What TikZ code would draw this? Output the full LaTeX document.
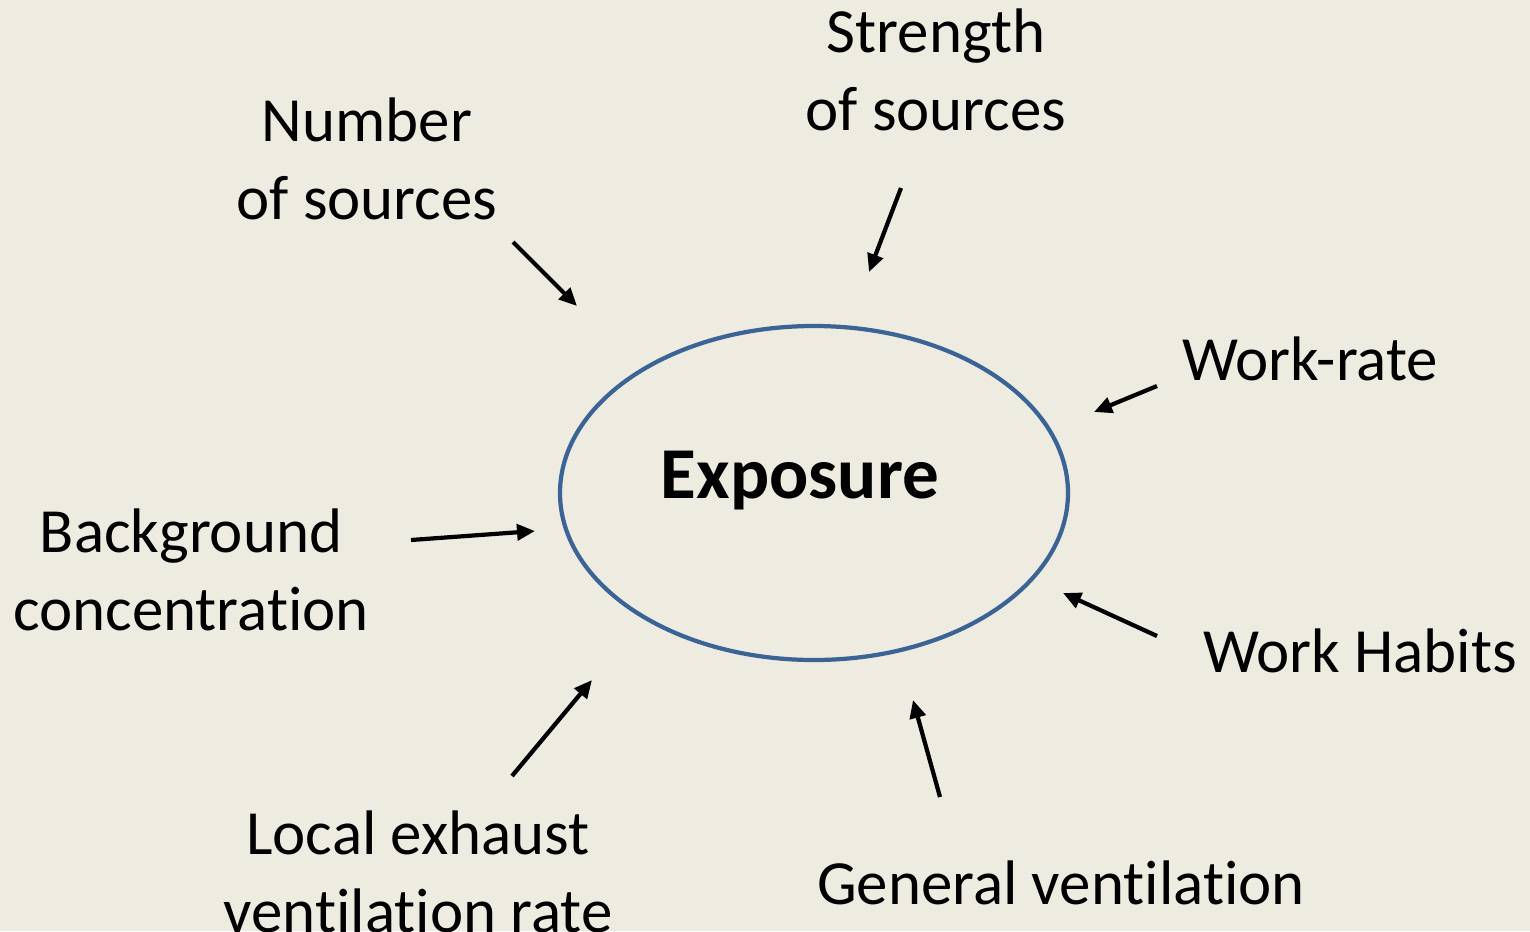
\documentclass[tikz,border=0pt]{standalone}
\usepackage{fontspec}
\setmainfont[Ligatures=NoCommon]{Carlito}
\usepackage{tikz}
\usetikzlibrary{arrows.meta,positioning,calc}
\definecolor{bgtan}{HTML}{EEECE1}
\definecolor{ringblue}{HTML}{3B6396}
\newcommand{\nolig}{\kern0pt}

\begin{document}
\begin{tikzpicture}[>={Triangle[length=0.18cm,width=0.16cm]},font=\fontsize{17.9}{22}\selectfont]
\tikzstyle{lbl}=[align=center,inner sep=0pt]
\tikzstyle{arr}=[->,line width=1.2pt]
\fill[bgtan] (0,0) rectangle (15.3,9.31);
\useasboundingbox (0,0) rectangle (15.3,9.31);
\draw[ringblue,line width=1.2pt] (8.14,4.38) ellipse (2.54cm and 1.67cm);
\node[font=\fontsize{20.8}{25}\selectfont\bfseries] (expo) at (8.00,4.50) {Exposure};
\node[lbl] (num) at (3.67,7.72) {Number\\of sources};
\node[lbl] (str) at (9.36,8.61) {Strength\\of sources};
\node[lbl] (wrate) at (13.10,5.72) {Work-rate};
\node[lbl] (bg) at (1.91,3.61) {Background\\concentrat\nolig ion};
\node[lbl] (habits) at (13.60,2.80) {Work Habits};
\node[lbl] (lev) at (4.18,0.59) {Local exhaust\\ventilat\nolig ion rate};
\node[lbl] (genv) at (10.61,0.48) {General ventilat\nolig ion};
% arrow ends
\coordinate (n1) at (5.13,6.89); \coordinate (n2) at (5.77,6.25);
\coordinate (s1) at (9.01,7.43); \coordinate (s2) at (8.69,6.59);
\coordinate (w1) at (11.57,5.45); \coordinate (w2) at (10.94,5.19);
\coordinate (b1) at (4.11,3.91); \coordinate (b2) at (5.35,4.00);
\coordinate (h1) at (11.57,2.95); \coordinate (h2) at (10.63,3.38);
\coordinate (g1) at (9.40,1.34); \coordinate (g2) at (9.13,2.31);
\coordinate (l1) at (5.12,1.55); \coordinate (l2) at (5.92,2.51);
\draw[arr] (n1) -- (n2); \draw[arr] (s1) -- (s2); \draw[arr] (w1) -- (w2);
\draw[arr] (b1) -- (b2); \draw[arr] (h1) -- (h2); \draw[arr] (g1) -- (g2);
\draw[arr] (l1) -- (l2);
\end{tikzpicture}
\end{document}
